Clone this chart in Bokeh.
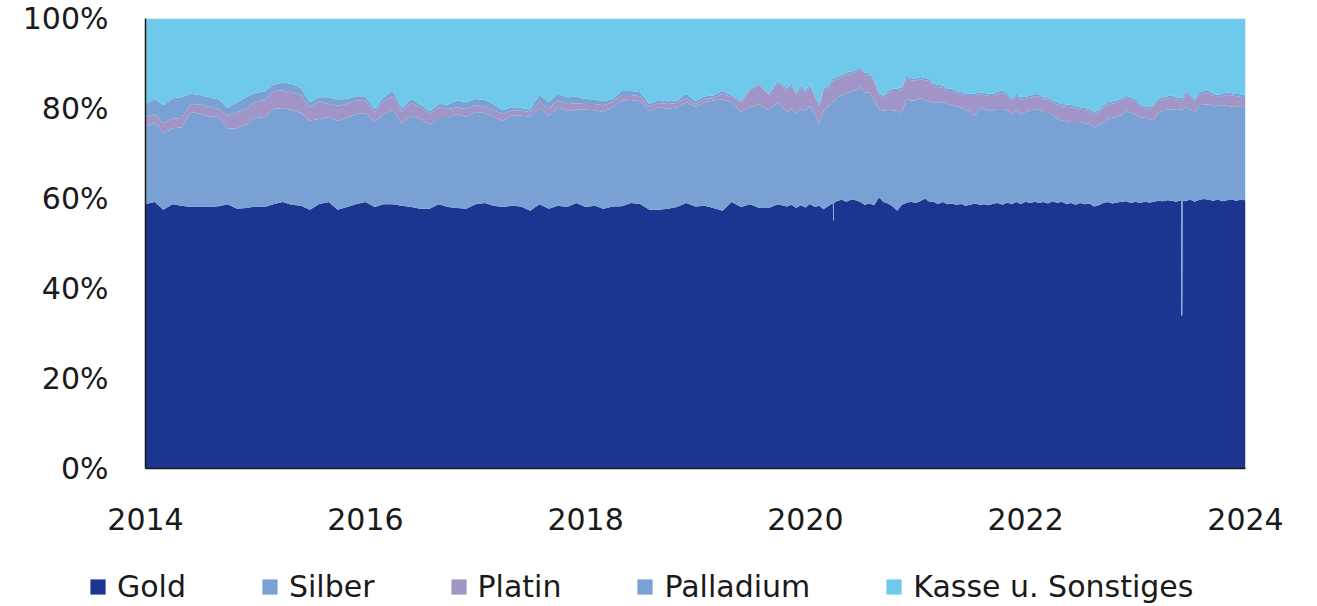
import pandas as pd
from bokeh.plotting import figure
from bokeh.layouts import column
from bokeh.models import (Range1d, FixedTicker, DatetimeTickFormatter, PrintfTickFormatter,
                          Legend, LegendItem, ColumnDataSource)
from bokeh.embed import file_html
from bokeh.resources import INLINE

# ---------------- data (shares in %) ----------------
dates = [
    "2014-01-01", "2014-02-01", "2014-03-01", "2014-04-01", "2014-05-01", "2014-06-01",
    "2014-07-01", "2014-08-01", "2014-09-01", "2014-10-01", "2014-11-01", "2014-12-01",
    "2015-01-01", "2015-02-01", "2015-03-01", "2015-04-01", "2015-05-01", "2015-06-01",
    "2015-07-01", "2015-08-01", "2015-09-01", "2015-10-01", "2015-11-01", "2015-12-01",
    "2016-01-01", "2016-02-01", "2016-03-01", "2016-04-01", "2016-05-01", "2016-06-01",
    "2016-07-01", "2016-08-01", "2016-09-01", "2016-10-01", "2016-11-01", "2016-12-01",
    "2017-01-01", "2017-02-01", "2017-03-01", "2017-04-01", "2017-05-01", "2017-06-01",
    "2017-07-01", "2017-08-01", "2017-09-01", "2017-10-01", "2017-11-01", "2017-12-01",
    "2018-01-01", "2018-02-01", "2018-03-01", "2018-04-01", "2018-05-01", "2018-06-01",
    "2018-07-01", "2018-08-01", "2018-09-01", "2018-10-01", "2018-11-01", "2018-12-01",
    "2019-01-01", "2019-02-01", "2019-03-01", "2019-04-01", "2019-05-01", "2019-06-01",
    "2019-07-01", "2019-08-01", "2019-09-01", "2019-10-01",
    "2019-11-01", "2019-11-16", "2019-12-01", "2019-12-16",
    "2020-01-01", "2020-01-16", "2020-02-01", "2020-02-16", "2020-03-01", "2020-03-16",
    "2020-04-01", "2020-04-02", "2020-04-04", "2020-04-05", "2020-04-16",
    "2020-05-01", "2020-05-16", "2020-06-01", "2020-06-16", "2020-07-01", "2020-07-16",
    "2020-08-01", "2020-08-16", "2020-09-01", "2020-09-16", "2020-10-01", "2020-10-16",
    "2020-11-01", "2020-11-16", "2020-12-01", "2020-12-16",
    "2021-01-01", "2021-01-16", "2021-02-01", "2021-02-16", "2021-03-01", "2021-03-16",
    "2021-04-01", "2021-04-16", "2021-05-01", "2021-05-16", "2021-06-01", "2021-06-16",
    "2021-07-01", "2021-07-16", "2021-08-01", "2021-08-16", "2021-09-01", "2021-09-16",
    "2021-10-01", "2021-10-16", "2021-11-01", "2021-11-16", "2021-12-01", "2021-12-16",
    "2022-01-01", "2022-01-16", "2022-02-01", "2022-02-16", "2022-03-01", "2022-03-16",
    "2022-04-01", "2022-04-16", "2022-05-01", "2022-05-16", "2022-06-01", "2022-06-16",
    "2022-07-01", "2022-07-16", "2022-08-01", "2022-08-16", "2022-09-01", "2022-09-16",
    "2022-10-01", "2022-10-16", "2022-11-01", "2022-11-16", "2022-12-01", "2022-12-16",
    "2023-01-01", "2023-01-16", "2023-02-01", "2023-02-16", "2023-03-01", "2023-03-16",
    "2023-04-01", "2023-04-16", "2023-05-01", "2023-05-16",
    "2023-06-01", "2023-06-02", "2023-06-05", "2023-06-06", "2023-06-16",
    "2023-07-01", "2023-07-16", "2023-08-01", "2023-08-16", "2023-09-01", "2023-09-16",
    "2023-10-01", "2023-10-16", "2023-11-01", "2023-11-16", "2023-12-01", "2023-12-16",
    "2024-01-01",
]

gold = [
    58.8, 59.2, 57.5, 58.7, 58.4, 58.1, 58.2, 58.1, 58.3, 58.7, 57.7, 57.9,
    58.2, 58.1, 58.7, 59.2, 58.6, 58.4, 57.5, 58.8, 59.2, 57.5, 58.1, 58.7,
    59.2, 58.1, 58.7, 58.7, 58.4, 58.1, 57.7, 57.7, 58.7, 58.1, 57.9, 57.7,
    58.7, 59.0, 58.4, 58.1, 58.4, 58.2, 57.3, 58.7, 57.7, 58.4, 58.1, 59.0,
    58.1, 58.4, 57.7, 58.2, 58.3, 59.0, 58.8, 57.5, 57.5, 57.7, 58.1, 59.0,
    58.2, 58.4, 57.9, 57.3, 59.2, 58.1, 58.7, 57.9, 57.9, 58.7,
    58.2, 58.6, 57.9, 58.5,
    58.0, 58.8, 58.1, 58.4, 57.6, 58.3,
    59.0, 55.1, 55.1, 59.0, 59.5,
    59.7, 59.3, 59.8, 59.6, 59.2, 58.6,
    58.9, 58.5, 60.3, 59.2, 58.9, 58.3,
    57.3, 58.6, 59.0, 59.3,
    59.0, 59.4, 60.0, 59.2, 59.3, 58.8,
    59.2, 58.7, 58.9, 58.6, 58.8, 58.4,
    58.6, 58.9, 58.6, 58.7, 58.5, 58.9,
    59.0, 58.6, 59.1, 58.7, 59.2, 58.8,
    59.3, 59.0, 59.3, 59.0, 59.2, 58.9,
    59.4, 59.0, 59.3, 58.8, 59.0, 58.6,
    59.0, 58.7, 58.9, 58.2, 58.5, 59.0,
    59.2, 58.9, 59.1, 59.3, 59.4, 59.0,
    59.3, 59.0, 59.3, 59.1, 59.2, 59.5,
    59.4, 59.6, 59.5, 59.3,
    59.6, 34.0, 34.0, 59.6, 59.4,
    59.8, 59.3, 59.7, 59.9, 59.7, 59.5,
    59.8, 59.4, 59.6, 59.8, 59.5, 59.7,
    59.6,
]

silber = [
    17.0, 17.8, 17.0, 16.9, 17.4, 21.1, 20.6, 20.2, 19.8, 16.8, 17.9, 18.5,
    19.9, 19.8, 21.2, 20.9, 21.1, 20.6, 19.8, 18.9, 18.9, 19.8, 19.8, 20.1,
    19.8, 18.9, 20.1, 21.0, 18.3, 20.3, 20.0, 18.7, 19.2, 19.8, 20.9, 20.4,
    20.5, 20.0, 19.7, 19.2, 20.1, 20.2, 20.9, 21.6, 20.7, 21.9, 21.3, 20.8,
    21.6, 21.2, 21.5, 22.1, 23.5, 22.9, 22.8, 21.9, 22.8, 22.2, 22.2, 22.4,
    22.2, 23.0, 23.9, 24.7, 22.2, 21.1, 21.6, 23.0, 21.7, 22.7,
    21.1, 21.4, 21.1, 21.3,
    21.5, 21.7, 20.7, 18.2, 21.9, 22.0,
    22.5, 26.4, 26.4, 22.5, 23.0,
    23.3, 24.0, 24.0, 24.4, 25.5, 24.9,
    24.6, 23.5, 19.5, 20.3, 20.8, 21.3,
    22.2, 20.4, 23.1, 22.5,
    22.8, 22.9, 21.8, 22.4, 22.1, 22.4,
    22.2, 22.3, 21.8, 21.9, 21.5, 21.2,
    21.0, 19.5, 21.6, 21.2, 21.1, 20.7,
    20.9, 21.3, 20.5, 20.1, 20.4, 20.0,
    19.9, 20.6, 20.5, 20.9, 20.0, 20.3,
    19.1, 18.7, 18.0, 18.4, 18.0, 18.4,
    18.0, 18.1, 17.7, 17.6, 17.7, 18.0,
    18.5, 19.1, 19.0, 19.2, 20.2, 20.0,
    19.3, 19.1, 18.6, 18.6, 18.2, 19.5,
    20.2, 20.1, 20.3, 20.6,
    20.2, 45.8, 45.8, 20.2, 20.9,
    20.1, 19.7, 21.0, 21.0, 21.2, 21.0,
    20.9, 21.3, 21.0, 20.6, 20.9, 20.7,
    20.7,
]

platin = [
    2.3, 1.8, 2.2, 2.1, 2.1, 1.8, 2.1, 2.1, 1.8, 2.9, 3.6, 3.5,
    3.5, 3.9, 4.0, 3.9, 3.9, 4.0, 3.0, 3.9, 2.9, 3.3, 3.1, 3.0,
    2.9, 2.2, 2.8, 3.1, 2.7, 2.9, 2.6, 2.4, 2.4, 2.0, 1.5, 1.8,
    1.5, 1.4, 1.5, 1.5, 1.1, 1.1, 1.0, 1.2, 1.5, 1.5, 1.6, 1.3,
    1.3, 1.4, 1.5, 1.1, 1.2, 1.1, 1.1, 0.9, 0.9, 1.1, 0.9, 0.9,
    0.6, 0.7, 0.5, 1.3, 1.1, 2.2, 3.7, 4.3, 3.4, 4.3,
    4.7, 5.0, 4.0, 4.7,
    4.0, 4.5, 3.7, 3.9, 4.5, 4.2,
    4.8, 4.8, 4.8, 4.8, 4.0,
    4.0, 4.2, 3.9, 4.0, 4.1, 4.0,
    3.8, 4.0, 3.2, 2.8, 3.8, 4.3,
    4.4, 5.3, 4.7, 4.5,
    4.3, 4.2, 4.5, 4.5, 3.6, 3.6,
    3.2, 2.9, 3.2, 2.9, 2.8, 3.2,
    3.2, 4.4, 2.9, 3.1, 3.2, 3.2,
    3.4, 3.6, 3.2, 2.8, 3.2, 3.2,
    2.9, 2.8, 3.0, 2.6, 2.8, 2.8,
    2.8, 3.2, 3.2, 3.2, 3.3, 3.1,
    2.8, 2.8, 2.8, 2.9, 2.9, 3.2,
    3.2, 3.1, 3.2, 3.3, 2.8, 2.9,
    3.0, 2.4, 2.1, 2.1, 2.9, 2.6,
    2.4, 2.5, 2.6, 2.1,
    2.1, 2.1, 2.1, 2.1, 2.8,
    2.9, 2.5, 2.4, 2.5, 2.5, 2.4,
    1.8, 2.0, 2.5, 2.5, 2.4, 2.2,
    2.1,
]

palladium = [
    2.9, 3.3, 4.0, 4.6, 4.6, 2.3, 2.1, 2.1, 2.1, 1.7, 2.2, 2.6,
    1.9, 2.0, 1.4, 1.8, 1.9, 1.5, 1.1, 0.9, 1.5, 1.4, 1.1, 0.9,
    0.8, 0.7, 0.9, 1.1, 0.7, 0.8, 0.6, 0.6, 0.7, 1.0, 1.5, 1.5,
    1.4, 1.5, 1.4, 0.8, 0.7, 0.6, 0.6, 1.5, 1.5, 1.5, 1.5, 1.5,
    1.1, 1.0, 0.9, 0.7, 0.9, 0.9, 0.9, 0.7, 0.7, 0.6, 0.6, 1.0,
    0.6, 0.6, 0.6, 0.6, 0.4, 0.4, 0.4, 0.3, 0.3, 0.4,
    0.5, 0.5, 0.5, 0.5,
    0.5, 0.5, 0.5, 0.5, 0.5, 0.5,
    0.5, 0.5, 0.5, 0.5, 0.5,
    0.5, 0.5, 0.5, 0.5, 0.5, 0.5,
    0.5, 0.5, 0.5, 0.5, 0.5, 0.5,
    0.5, 0.5, 0.5, 0.5,
    0.5, 0.5, 0.5, 0.5, 0.5, 0.5,
    0.5, 0.5, 0.5, 0.5, 0.5, 0.5,
    0.5, 0.5, 0.5, 0.5, 0.5, 0.5,
    0.5, 0.5, 0.5, 0.5, 0.5, 0.5,
    0.5, 0.5, 0.5, 0.5, 0.5, 0.5,
    0.5, 0.5, 0.5, 0.5, 0.5, 0.5,
    0.5, 0.5, 0.5, 0.5, 0.5, 0.5,
    0.5, 0.5, 0.5, 0.5, 0.5, 0.5,
    0.5, 0.5, 0.5, 0.5, 0.5, 0.5,
    0.5, 0.5, 0.5, 0.5,
    0.5, 0.5, 0.5, 0.5, 0.5,
    0.5, 0.5, 0.5, 0.5, 0.5, 0.5,
    0.5, 0.5, 0.5, 0.5, 0.5, 0.5,
    0.5,
]

kasse = [
    19.0, 17.9, 19.3, 17.7, 17.5, 16.7, 17.0, 17.5, 18.0, 19.9, 18.6, 17.5,
    16.5, 16.2, 14.7, 14.2, 14.5, 15.5, 18.6, 17.5, 17.5, 18.0, 17.9, 17.3,
    17.3, 20.1, 17.5, 16.1, 19.9, 17.9, 19.1, 20.6, 19.0, 19.1, 18.2, 18.6,
    17.9, 18.1, 19.0, 20.4, 19.7, 19.9, 20.2, 17.0, 18.6, 16.7, 17.5, 17.4,
    17.9, 18.0, 18.4, 17.9, 16.1, 16.1, 16.4, 19.0, 18.1, 18.4, 18.2, 16.7,
    18.4, 17.3, 17.1, 16.1, 17.1, 18.2, 15.6, 14.5, 16.7, 13.9,
    15.5, 14.5, 16.5, 15.0,
    16.0, 14.5, 17.0, 19.0, 15.5, 15.0,
    13.2, 13.2, 13.2, 13.2, 13.0,
    12.5, 12.0, 11.8, 11.5, 10.7, 12.0,
    12.2, 13.5, 16.5, 17.2, 16.0, 15.6,
    15.6, 15.2, 12.7, 13.2,
    13.4, 13.0, 13.2, 13.4, 14.5, 14.7,
    14.9, 15.6, 15.6, 16.1, 16.4, 16.7,
    16.7, 16.7, 16.4, 16.5, 16.7, 16.7,
    16.2, 16.0, 16.7, 17.9, 16.7, 17.5,
    17.4, 17.1, 16.7, 17.0, 17.5, 17.5,
    18.2, 18.6, 19.0, 19.1, 19.2, 19.4,
    19.7, 19.9, 20.1, 20.8, 20.4, 19.3,
    18.6, 18.4, 18.2, 17.7, 17.1, 17.6,
    17.9, 19.0, 19.5, 19.7, 19.2, 17.9,
    17.5, 17.3, 17.1, 17.5,
    17.6, 17.6, 17.6, 17.6, 16.4,
    16.7, 18.0, 16.4, 16.1, 16.1, 16.6,
    17.0, 16.8, 16.4, 16.6, 16.7, 16.9,
    17.1,
]

series_keys = ["gold", "silber", "platin", "palladium", "kasse"]
series_names = ["Gold", "Silber", "Platin", "Palladium", "Kasse u. Sonstiges"]
series_colors = ["#1c3590", "#7aa1d4", "#a095c6", "#7aa1d4", "#6fc9ea"]
x_tick_labels = ["2014", "2016", "2018", "2020", "2022", "2024"]
y_ticks = [0, 20, 40, 60, 80, 100]

# ---------------- figure ----------------
FONT = "DejaVu Sans"
TXT = "#1a1a1a"

source = ColumnDataSource(data=dict(
    date=pd.to_datetime(dates), gold=gold, silber=silber, platin=platin,
    palladium=palladium, kasse=kasse))

x_start = pd.Timestamp(x_tick_labels[0] + "-01-01")
x_end = pd.Timestamp(x_tick_labels[-1] + "-01-01")

W = 1312
H1, H2 = 543, 61
p = figure(width=W, height=H1, x_axis_type="datetime",
           output_backend="svg", toolbar_location=None,
           x_range=Range1d(x_start, x_end), y_range=Range1d(0, 100),
           min_border_left=145, min_border_right=W - 1245,
           min_border_top=18, min_border_bottom=H1 - 468)
p.frame_align = False

renderers = p.varea_stack(stackers=series_keys, x="date", color=series_colors,
                          source=source)

p.xgrid.visible = False
p.ygrid.visible = False
p.outline_line_color = None
p.background_fill_color = "white"
p.border_fill_color = "white"

ticks_ms = [pd.Timestamp(y + "-01-01").timestamp() * 1000 for y in x_tick_labels]
p.xaxis.ticker = FixedTicker(ticks=ticks_ms)
p.xaxis.formatter = DatetimeTickFormatter(years="%Y", months="%Y", days="%Y",
                                          hours="%Y", minutes="%Y", seconds="%Y")
p.yaxis.ticker = FixedTicker(ticks=y_ticks)
p.yaxis.formatter = PrintfTickFormatter(format="%d%%")

for ax in (p.xaxis, p.yaxis):
    ax.axis_line_color = TXT
    ax.axis_line_width = 1.5
    ax.major_tick_line_color = None
    ax.minor_tick_line_color = None
    ax.major_label_text_font = FONT
    ax.major_label_text_font_size = "30px"
    ax.major_label_text_color = TXT
p.xaxis.major_label_standoff = 33
p.yaxis.major_label_standoff = 31

# ---------------- legend strip (own small figure below the chart) ----------------
# same stacked areas, but the strip's ranges lie outside the data, so only the legend shows
lf = figure(width=W, height=H2, output_backend="svg", toolbar_location=None,
            x_axis_location=None, y_axis_location=None,
            x_range=Range1d(0, 1), y_range=Range1d(0, 1),
            min_border_left=0, min_border_right=0, min_border_top=0, min_border_bottom=0)
lf.frame_align = False
lf.xgrid.visible = False
lf.ygrid.visible = False
lf.outline_line_color = None
lf.background_fill_color = "white"
lf.border_fill_color = "white"

legend_renderers = lf.varea_stack(stackers=series_keys, x="date", color=series_colors,
                                  source=source)
items = [LegendItem(label=n, renderers=[r]) for n, r in zip(series_names, legend_renderers)]
legend = Legend(items=items, orientation="horizontal", location=(88, 0),
                glyph_width=19, glyph_height=19, label_standoff=10, spacing=74,
                padding=0, margin=0, border_line_color=None,
                background_fill_alpha=0, label_text_font=FONT,
                label_text_font_size="30px", label_text_color=TXT)
lf.add_layout(legend)

layout = column(p, lf, spacing=0)
open("out.html", "w").write(file_html(layout, INLINE))
